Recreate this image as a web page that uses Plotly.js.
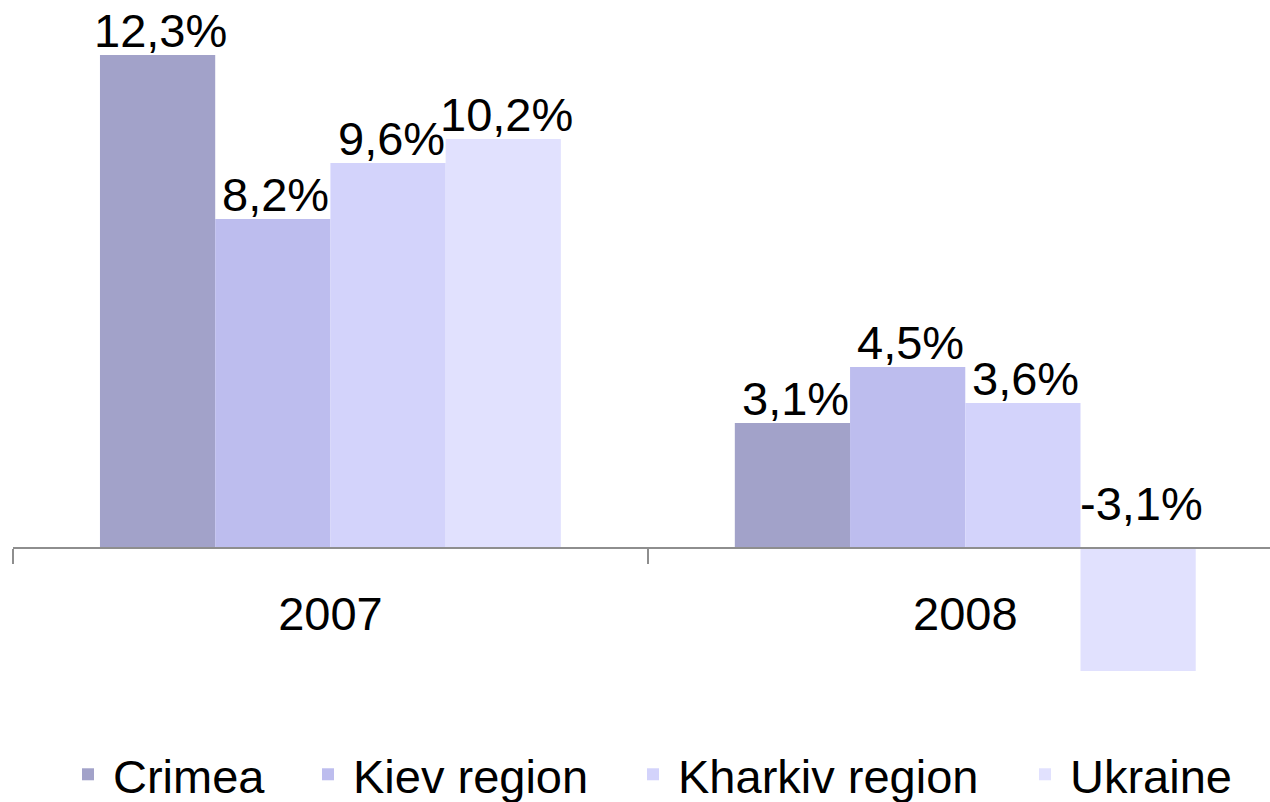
<!DOCTYPE html>
<html>
<head>
<meta charset="utf-8">
<script src="https://cdn.plot.ly/plotly-3.0.1.min.js"></script>
<style>html,body{margin:0;padding:0;background:#fff;}#chart{width:1270px;height:802px;}</style>
</head>
<body>
<div id="chart"></div>
<script>
var categories = ['2007', '2008'];
var seriesNames = ['Crimea', 'Kiev region', 'Kharkiv region', 'Ukraine'];
var crimea = [12.3, 3.1];
var kiev = [8.2, 4.5];
var kharkiv = [9.6, 3.6];
var ukraine = [10.2, -3.1];
var colors = ['#A2A2C9', '#BDBDEE', '#D3D3FB', '#E1E1FE'];

var FONT = '"Liberation Sans", Arial, sans-serif';
var FS = 47;
var BARGAP = 0.274;

function fmt(v) { return v.toFixed(1).replace('.', ',') + '%'; }

var allSeries = [crimea, kiev, kharkiv, ukraine];
var legendIds = ['legend', 'legend2', 'legend3', 'legend4'];
// left edge (px) of each legend entry's text, laid out like the source chart
var legendTextLeft = [113, 353, 678, 1070];

var traces = allSeries.map(function (vals, i) {
  return {
    type: 'bar',
    name: seriesNames[i],
    x: categories,
    y: vals,
    legend: legendIds[i],
    marker: { color: colors[i], line: { width: 0 } },
    hoverinfo: 'skip'
  };
});

// value labels: above the bar end for positives, above the zero line for negatives
var annotations = [];
var n = allSeries.length;
var barW = (1 - BARGAP) / n;
allSeries.forEach(function (vals, i) {
  vals.forEach(function (v, j) {
    annotations.push({
      x: j + (i - (n - 1) / 2) * barW,
      y: v >= 0 ? v : 0,
      xref: 'x', yref: 'y',
      text: fmt(v),
      showarrow: false,
      yanchor: 'bottom',
      xanchor: 'center',
      xshift: 3,
      yshift: v >= 0 ? -4 : 15,
      font: { family: FONT, size: FS, color: '#000' }
    });
  });
});

var layout = {
  width: 1270,
  height: 802,
  margin: { l: 13, r: 0, t: 27, b: 95 },
  paper_bgcolor: '#fff',
  plot_bgcolor: '#fff',
  barmode: 'group',
  bargap: BARGAP,
  bargroupgap: 0,
  font: { family: FONT, size: FS, color: '#000' },
  xaxis: {
    type: 'category',
    range: [-0.5, 1.48],
    anchor: 'free',
    position: 4 / 17,
    showline: true,
    linecolor: '#8E8E8E',
    linewidth: 1.5,
    ticks: 'outside',
    tickson: 'boundaries',
    ticklen: 15,
    tickwidth: 1.5,
    tickcolor: '#8E8E8E',
    ticklabelstandoff: 25,
    showgrid: false,
    zeroline: false,
    automargin: false,
    tickfont: { family: FONT, size: FS, color: '#000' }
  },
  yaxis: {
    range: [-4, 13],
    visible: false,
    showgrid: false,
    zeroline: false,
    fixedrange: true
  },
  showlegend: true,
  annotations: annotations
};

legendIds.forEach(function (id, i) {
  layout[id] = {
    orientation: 'h',
    x: (legendTextLeft[i] - 50) / 1270,
    xanchor: 'left',
    xref: 'container',
    y: 0.034,
    yanchor: 'middle',
    yref: 'container',
    font: { family: FONT, size: FS, color: '#000' },
    itemwidth: 40,
    bgcolor: 'rgba(0,0,0,0)'
  };
});

Plotly.newPlot('chart', traces, layout, { displayModeBar: false, staticPlot: true });
</script>
</body>
</html>
